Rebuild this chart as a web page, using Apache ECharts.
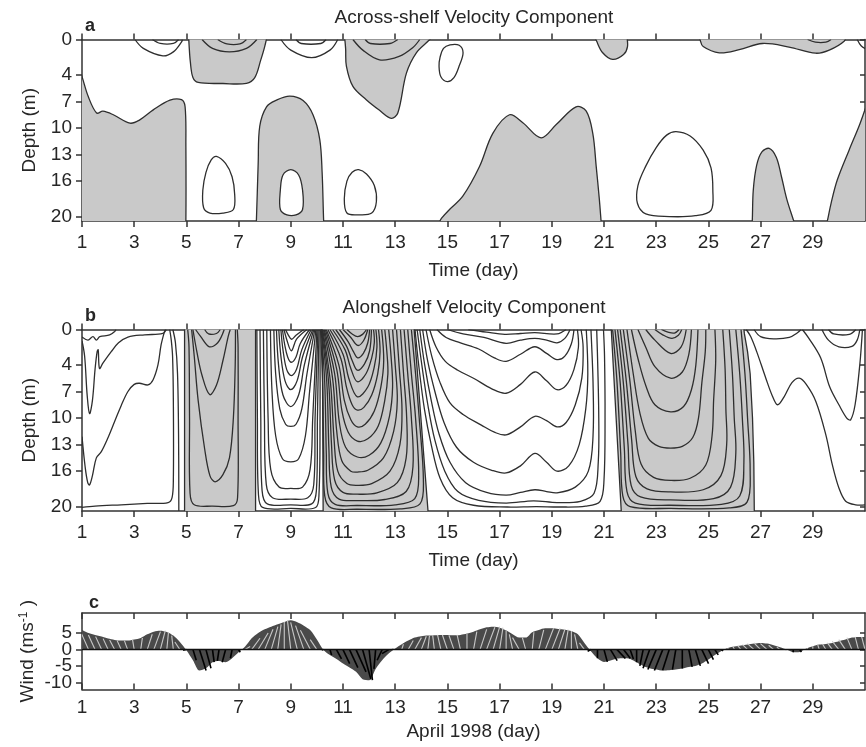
<!DOCTYPE html>
<html>
<head>
<meta charset="utf-8">
<script src="https://cdn.jsdelivr.net/npm/echarts@6/dist/echarts.min.js"></script>
<style>
  html, body { margin: 0; padding: 0; background: #fff; }
  #chart { width: 866px; height: 747px; }
</style>
</head>
<body>
<div id="chart"></div>
<script>
// ---- axis ticks -------------------------------------------------------
const dayTicks = [1, 3, 5, 7, 9, 11, 13, 15, 17, 19, 21, 23, 25, 27, 29];
const depthTicks = [0, 4, 7, 10, 13, 16, 20];
const windTicks = [-10, -5, 0, 5];

// ---- (a) across-shelf velocity: negative regions, [day, depth (m)] ----
const acrossShaded = [
  [[0.85,3.0],[1.0,4.2],[1.24,6.45],[1.56,8.3],[1.8,8.1],[2.2,8.5],[2.84,9.45],[3.2,9.1],[3.73,7.95],[4.37,6.85],[4.81,6.8],[4.95,7.6],[4.98,12],[4.98,20.6],[4.95,21],[0.9,21],[0.85,20.6]],
  [[5.05,-1],[5.08,-0.6],[5.1,0.5],[5.15,2.5],[5.25,4.3],[5.45,4.85],[6.4,4.97],[7.3,4.95],[7.62,4.3],[7.85,2.3],[8.0,0.8],[8.1,-0.6],[8.08,-1]],
  [[11.03,-1],[11.05,-0.6],[11.1,1],[11.13,3.0],[11.38,5.3],[11.89,6.8],[12.4,8.0],[12.85,8.9],[13.1,8.3],[13.43,3.8],[13.81,1.5],[14.32,0],[14.45,-0.6],[14.45,-1]],
  [[7.66,21],[7.68,20.6],[7.75,14],[7.81,9.8],[8.07,7.6],[8.45,6.85],[8.96,6.4],[9.47,6.9],[9.85,8.5],[10.11,11.3],[10.2,15],[10.26,20.6],[10.28,21]],
  [[20.62,-1],[20.65,-0.5],[20.72,0.2],[20.95,1.5],[21.33,2.25],[21.75,1.7],[21.9,0.8],[21.87,-0.5],[21.85,-1]],
  [[14.65,21],[14.7,20.6],[14.77,20.2],[15.08,19.2],[15.59,17.7],[16.23,14.35],[16.74,10.6],[17.38,8.5],[17.89,9.4],[18.59,11.1],[19.17,9.6],[19.93,7.6],[20.32,8.1],[20.57,10.6],[20.7,14.3],[20.82,18],[20.89,20.6],[20.9,21]],
  [[26.66,21],[26.68,20.6],[26.72,17],[26.85,14.2],[27.05,12.7],[27.33,12.3],[27.6,13.3],[27.8,15.5],[28.0,18],[28.28,20.6],[28.32,21]],
  [[29.5,21],[29.55,20.6],[29.7,18.5],[29.94,15.85],[30.39,12.5],[30.77,9.8],[31.2,6.5],[31.4,6],[31.4,21]],
  [[24.6,-1],[24.65,-0.5],[24.68,0],[24.8,0.8],[25.42,1.5],[26.18,1.15],[27.07,0.45],[28.09,0.85],[29.11,1.55],[29.63,1.2],[30.2,0.2],[30.27,-0.5],[30.28,-1]]
];

// closed positive cells
const acrossLoops = [
  [[14.72,2.0],[14.85,1.0],[15.1,0.6],[15.45,0.65],[15.6,1.5],[15.45,3.0],[15.25,4.3],[15.0,4.75],[14.75,4.2],[14.68,3.0]],
  [[6.15,13.2],[6.5,14.0],[6.75,15.5],[6.85,17.5],[6.8,19.2],[6.4,19.6],[5.9,19.6],[5.66,19.0],[5.63,17.0],[5.75,15.0],[5.95,13.6]],
  [[9.0,14.7],[9.3,15.3],[9.45,17],[9.45,19.2],[9.2,19.8],[8.85,19.8],[8.6,19.2],[8.6,17],[8.7,15.3]],
  [[11.6,14.7],[11.9,15.2],[12.2,16.5],[12.28,18.3],[12.1,19.6],[11.6,19.8],[11.15,19.6],[11.05,18],[11.15,16],[11.35,15]],
  [[23.76,10.4],[24.3,10.9],[24.8,12.5],[25.1,14.5],[25.17,17],[25.1,19.3],[24.5,19.9],[23.5,20.0],[22.6,19.7],[22.28,18.5],[22.3,16.5],[22.6,14.3],[23.0,12.2],[23.4,10.8]]
];

// open contours touching the surface
const acrossLines = [
  [[3.03,0],[3.35,1.0],[4.1,1.85],[4.5,1.4],[4.81,0.3],[4.85,0]],
  [[3.7,0],[4.0,0.45],[4.5,0.45],[4.7,0]],
  [[5.6,0],[6.0,1.0],[6.65,1.4],[7.3,1.0],[7.7,0]],
  [[6.2,0],[6.55,0.5],[7.05,0.5],[7.3,0]],
  [[8.62,0],[9.0,1.2],[9.8,2.05],[10.5,1.2],[10.8,0]],
  [[9.2,0],[9.4,0.45],[10.15,0.45],[10.35,0]],
  [[11.38,0],[11.76,1.2],[12.4,2.3],[13.15,1.9],[13.68,0.9],[13.94,0]],
  [[11.85,0],[12.05,0.45],[12.8,0.45],[13.1,0]],
  [[28.8,0],[29.1,0.3],[29.5,0.3],[29.7,0]],
  [[30.7,0],[30.85,0.7],[31.05,1.1]]
];

// ---- (b) alongshelf velocity: negative regions, [day, depth (m)] ------
const alongShaded = [
  [[4.93,-1],[4.93,21],[7.65,21],[7.65,-1]],
  [[10.2,-1],[10.22,8],[10.24,21],[14.27,21],[13.7,-1]],
  [[21.26,-1],[21.67,21],[26.76,21],[26.74,15],[26.69,10],[26.6,5],[26.5,2.5],[26.38,0.5],[26.32,-1]]
];

const alongLines = [
  // days 1-5
  [[1.0,0.85],[1.23,1.19],[1.42,0.81],[1.55,1.19],[1.68,0.81],[2.06,0.62],[2.25,0.24],[2.3,0]],
  [[1.0,1.3],[1.1,3],[1.2,7.5],[1.29,9.5],[1.4,8],[1.5,4.5],[1.58,2.5],[1.62,2.3],[1.67,4.4],[1.8,3.8],[2.12,2.5],[2.4,1.5],[2.76,0.85],[3.4,0.6],[4.1,0.45],[4.23,0]],
  [[1.0,12.1],[1.12,15.5],[1.22,17.3],[1.29,17.55],[1.4,16.5],[1.55,14.5],[1.74,13.8],[2.0,12.2],[2.25,10.4],[2.5,8.6],[2.76,7.0],[3.0,6.2],[3.2,6.07],[3.53,6.26],[3.72,5.7],[3.91,4.0],[4.03,1.75],[4.16,0.24],[4.2,0]],
  [[1.0,20.1],[1.5,19.95],[2.5,19.8],[3.5,19.65],[4.3,19.55],[4.45,19.0],[4.5,17],[4.5,8],[4.47,3],[4.42,1.2],[4.36,0]],
  [[4.48,0],[4.58,1.5],[4.66,5],[4.7,12],[4.71,20.6]],
  // days 5-7.6
  [[5.05,0],[5.1,2],[5.12,10],[5.14,18.5],[5.3,19.8],[6.0,19.95],[6.8,19.9],[6.96,19],[6.98,10],[6.98,2],[6.95,0]],
  [[5.2,0],[5.3,3],[5.45,8],[5.7,13.5],[5.9,16.5],[6.1,17.2],[6.4,16.4],[6.65,14.5],[6.8,10],[6.87,4],[6.88,0]],
  [[5.25,0],[5.4,2.5],[5.6,5.2],[5.89,7.35],[6.15,6.3],[6.4,3.5],[6.6,0.8],[6.68,0]],
  [[5.35,0],[5.55,0.8],[5.88,1.95],[6.2,1.5],[6.45,0]],
  [[5.7,0],[5.85,0.5],[6.15,0.45],[6.3,0]],
  // days 7.6-10.2
  [[7.7,0],[7.72,10],[7.76,18.6],[7.92,20.1],[9.0,20.2],[9.95,20.1],[10.08,18.6],[10.12,10],[10.12,0]],
  [[7.82,0],[7.85,10],[7.9,18.2],[8.1,19.7],[9.0,19.8],[9.8,19.7],[9.98,18.2],[10.02,10],[10.08,0]],
  [[7.95,0],[7.99,10],[8.06,17.5],[8.3,19.0],[9.0,19.15],[9.65,19.0],[9.88,17.5],[9.93,10],[10.04,0]],
  [[8.08,0],[8.13,10],[8.23,15.8],[8.55,17.8],[9.0,17.95],[9.45,17.8],[9.74,15.8],[9.84,10],[10.0,0]],
  [[8.22,0],[8.28,7],[8.42,12],[8.68,14.6],[9.0,14.95],[9.3,14.6],[9.56,12],[9.72,7],[9.96,0]],
  [[8.35,0],[8.42,5],[8.58,9],[8.8,10.7],[9.0,10.95],[9.2,10.7],[9.42,9],[9.62,5],[9.92,0]],
  [[8.45,0],[8.53,4],[8.7,7.4],[9.0,8.7],[9.3,7.4],[9.52,4],[9.88,0]],
  [[8.54,0],[8.62,3],[8.78,5.8],[9.0,6.8],[9.24,5.8],[9.46,3],[9.84,0]],
  [[8.62,0],[8.7,2.3],[8.84,4.5],[9.02,5.2],[9.22,4.5],[9.42,2.3],[9.78,0]],
  [[8.68,0],[8.76,1.6],[8.88,3.1],[9.02,3.7],[9.2,3.1],[9.36,1.6],[9.72,0]],
  [[8.74,0],[8.84,1.1],[9.02,2.4],[9.22,1.1],[9.62,0]],
  [[8.8,0],[8.9,0.6],[9.03,1.1],[9.2,0.65],[9.5,0]],
  // days 10.2-14.3
  [[10.14,0],[10.22,6],[10.26,14],[10.3,18.8],[10.55,20.15],[11.55,20.3],[13.2,20.25],[13.95,19.7],[14.08,17],[13.92,10],[13.78,5],[13.62,0]],
  [[10.16,0],[10.3,6],[10.36,14],[10.42,18.5],[10.7,19.75],[11.55,19.88],[13.0,19.8],[13.75,19.1],[13.9,16.5],[13.78,10],[13.62,5],[13.48,0]],
  [[10.18,0],[10.38,6],[10.46,13.5],[10.55,17.8],[10.85,19.15],[11.55,19.32],[12.6,19.2],[13.42,18.3],[13.68,15.5],[13.62,10],[13.48,5],[13.34,0]],
  [[10.2,0],[10.45,6],[10.56,13],[10.68,17],[11.0,18.4],[11.55,18.6],[12.3,18.45],[13.08,17.3],[13.42,14.5],[13.44,10],[13.32,5],[13.2,0]],
  [[10.22,0],[10.52,6],[10.66,12.5],[10.8,16],[11.15,17.4],[11.55,17.6],[12.1,17.4],[12.8,16],[13.18,13],[13.26,9],[13.16,4.5],[13.05,0]],
  [[10.25,0],[10.6,5.5],[10.76,11.5],[10.95,14.8],[11.3,16],[11.55,16.1],[11.95,15.9],[12.55,14.5],[12.94,11.5],[13.08,8],[13.0,4],[12.9,0]],
  [[10.28,0],[10.68,5],[10.86,10.5],[11.1,13.3],[11.55,14.4],[12.0,14.2],[12.45,12.8],[12.78,9.8],[12.9,6.5],[12.84,3],[12.75,0]],
  [[10.32,0],[10.76,4.5],[10.96,9.2],[11.2,11.6],[11.55,12.6],[11.95,12.35],[12.35,10.9],[12.6,8],[12.72,5],[12.68,2.5],[12.6,0]],
  [[10.36,0],[10.84,4],[11.05,8],[11.3,10.2],[11.55,11.0],[11.85,10.7],[12.2,9.2],[12.45,6.5],[12.56,3.5],[12.48,0]],
  [[10.42,0],[10.92,3.3],[11.14,6.6],[11.35,8.5],[11.55,9.1],[11.8,8.8],[12.1,7.4],[12.33,5],[12.42,2.5],[12.36,0]],
  [[10.5,0],[11.0,2.8],[11.22,5.5],[11.55,7.6],[11.95,6.5],[12.2,4.2],[12.3,2],[12.26,0]],
  [[10.6,0],[11.08,2.3],[11.3,4.4],[11.55,5.9],[11.88,5.0],[12.1,3.2],[12.2,1.5],[12.17,0]],
  [[10.72,0],[11.14,1.9],[11.35,3.5],[11.55,4.6],[11.82,3.9],[12.02,2.4],[12.09,0]],
  [[10.86,0],[11.2,1.4],[11.4,2.5],[11.56,3.2],[11.78,2.7],[11.95,1.5],[12.02,0]],
  [[11.0,0],[11.3,0.9],[11.56,1.8],[11.78,1.3],[11.95,0]],
  [[11.15,0],[11.35,0.5],[11.56,0.8],[11.75,0.55],[11.9,0]],
  // days 14-21
  [[13.76,0],[13.9,4],[14.12,9],[14.38,13],[14.72,16.8],[15.2,19.0],[16.0,19.85],[17.3,20.05],[18.4,20.0],[19.3,20.05],[20.3,19.95],[20.85,19.4],[21.0,17],[21.04,10],[21.02,3],[20.98,0]],
  [[13.84,0],[14.02,4],[14.25,8.5],[14.52,12.5],[14.9,16],[15.4,18.3],[16.2,19.3],[17.25,19.6],[18.3,19.35],[19.2,19.55],[20.1,19.4],[20.62,18.5],[20.78,15],[20.8,10],[20.76,4],[20.72,0]],
  [[13.94,0],[14.13,4],[14.38,8],[14.68,11.8],[15.1,15],[15.7,17.3],[16.5,18.4],[17.25,18.7],[17.8,18.4],[18.35,18.1],[18.8,18.3],[19.2,18.45],[19.9,17.8],[20.4,16],[20.58,12],[20.58,6],[20.5,0]],
  [[14.05,0],[14.24,3.5],[14.52,7],[14.87,10.5],[15.35,13.3],[16.0,15.0],[16.7,15.9],[17.25,16.2],[17.8,15.4],[18.35,14.0],[18.8,15.0],[19.2,16.0],[19.65,15.4],[20.05,13],[20.3,9],[20.38,5],[20.32,0]],
  [[14.18,0],[14.4,3],[14.72,6],[15.1,8.3],[15.6,9.6],[16.3,10.8],[16.8,11.6],[17.25,11.9],[17.8,11.0],[18.35,9.8],[18.8,10.3],[19.2,11.0],[19.55,10.5],[19.9,8.5],[20.15,5.5],[20.2,2],[20.12,0]],
  [[14.32,0],[14.57,2],[14.92,3.6],[15.4,4.6],[16.0,5.5],[16.7,6.7],[17.25,7.2],[17.8,6.2],[18.35,4.8],[18.8,5.8],[19.2,6.8],[19.55,6.3],[19.85,4.5],[20.02,2],[19.98,0]],
  [[14.6,0],[14.95,0.9],[15.5,1.5],[16.2,2.2],[16.8,3.2],[17.25,3.6],[17.8,2.8],[18.35,1.95],[18.8,2.7],[19.2,3.4],[19.5,3.0],[19.75,1.6],[19.85,0]],
  [[15.0,0],[15.6,0.5],[16.4,0.9],[17.25,1.56],[17.8,1.2],[18.35,1.0],[18.8,1.2],[19.2,1.5],[19.5,1.0],[19.7,0]],
  [[15.8,0],[16.5,0.3],[17.2,0.55],[17.8,0.45],[18.35,0.35],[19.2,0.5],[19.55,0]],
  // days 21.3-26.8
  [[21.33,0],[21.5,6],[21.64,14],[21.72,18.8],[22.0,20.0],[23.55,20.2],[25.8,20.15],[26.48,19.5],[26.6,16],[26.5,10],[26.4,5],[26.25,0]],
  [[21.42,0],[21.62,6],[21.78,13.5],[21.88,18.3],[22.2,19.6],[23.55,19.85],[25.5,19.75],[26.2,18.8],[26.36,15],[26.3,10],[26.2,5],[26.05,0]],
  [[21.52,0],[21.74,6],[21.92,13],[22.04,17.6],[22.4,18.9],[23.55,19.25],[25.2,19.1],[25.85,17.8],[26.05,14],[25.99,10],[25.92,5],[25.8,0]],
  [[21.62,0],[21.86,6],[22.06,12.5],[22.22,16.6],[22.65,18.0],[23.55,18.35],[24.8,18.1],[25.48,16.5],[25.7,13],[25.67,9],[25.64,4.5],[25.55,0]],
  [[21.74,0],[21.98,5.5],[22.2,11.5],[22.42,15.2],[22.9,16.7],[23.55,17.05],[24.3,16.8],[24.9,15.3],[25.14,12],[25.2,8],[25.28,3.5],[25.25,0]],
  [[21.88,0],[22.12,5],[22.38,9.5],[22.7,12.3],[23.1,13.2],[23.55,13.4],[24.0,13.2],[24.4,12.2],[24.62,10],[24.75,6],[24.88,2.5],[24.9,0]],
  [[22.05,0],[22.32,3.5],[22.62,6.5],[22.95,8.5],[23.55,9.3],[24.05,8.7],[24.35,6.8],[24.52,4],[24.6,0]],
  [[22.3,0],[22.6,2],[22.95,4.2],[23.55,5.5],[24.0,4.8],[24.25,2.8],[24.35,0]],
  [[22.6,0],[22.95,1.2],[23.55,2.7],[23.95,2.0],[24.15,0]],
  [[22.95,0],[23.25,0.6],[23.6,1.0],[23.85,0.65],[23.98,0]],
  [[23.2,0],[23.45,0.3],[23.7,0.4],[23.88,0]],
  // days 26.4-31
  [[26.45,0],[26.62,0.8],[26.85,2.5],[27.2,5.5],[27.45,7.5],[27.65,8.5],[27.9,7.6],[28.2,6.0],[28.48,5.5],[28.75,6.2],[29.12,8.15],[29.5,11.9],[29.75,15.3],[30.0,17.9],[30.26,19.4],[30.64,19.8],[31.05,19.8]],
  [[28.6,0],[28.85,1],[29.3,3.2],[29.65,6.5],[30.0,8.5],[30.3,10.0],[30.45,10.2],[30.62,8.5],[30.8,4],[30.88,1],[30.9,0]],
  [[29.35,0],[29.6,1.2],[30.0,1.95],[30.5,1.9],[30.7,1.2],[30.8,0]],
  [[29.6,0],[29.8,0.5],[30.4,0.55],[30.65,0]],
  [[26.75,0],[27.0,0.8],[27.5,1.05],[28.1,0.9],[28.4,0.4],[28.55,0]]
];

// ---- (c) wind, 6-hourly: day, east (u) and north (v) components, m/s ----
const windDay = [1,1.25,1.5,1.75,2,2.25,2.5,2.75,3,3.25,3.5,3.75,4,4.25,4.5,4.75,5,5.25,5.5,5.75,6,6.25,6.5,6.75,7,7.25,7.5,7.75,8,8.25,8.5,8.75,9,9.25,9.5,9.75,10,10.25,10.5,10.75,11,11.25,11.5,11.75,12,12.25,12.5,12.75,13,13.25,13.5,13.75,14,14.25,14.5,14.75,15,15.25,15.5,15.75,16,16.25,16.5,16.75,17,17.25,17.5,17.75,18,18.25,18.5,18.75,19,19.25,19.5,19.75,20,20.25,20.5,20.75,21,21.25,21.5,21.75,22,22.25,22.5,22.75,23,23.25,23.5,23.75,24,24.25,24.5,24.75,25,25.25,25.5,25.75,26,26.25,26.5,26.75,27,27.25,27.5,27.75,28,28.25,28.5,28.75,29,29.25,29.5,29.75,30,30.25,30.5,30.75,31];
const windV = [5.9,5.0,4.4,3.9,3.3,2.9,2.7,2.7,3.0,
  3.5,4.6,5.4,5.7,5.3,4.2,2.3,-0.2,
  -3.2,-6.3,-5.6,-3.8,-3.4,-3.8,-2.6,-0.8,
  0.9,3.4,5.0,6.1,6.9,7.6,8.3,8.8,
  8.2,7.2,5.8,3.0,-0.1,-1.6,-2.8,-4.2,
  -5.4,-6.7,-8.9,-9.2,-5.8,-3.2,-1.2,0.3,
  1.6,2.7,3.6,4.0,4.2,4.3,4.4,4.4,
  4.3,4.4,4.8,5.4,6.1,6.7,6.9,6.6,
  5.8,4.6,3.6,3.6,5.2,5.9,6.4,6.4,
  6.2,6.0,5.6,4.6,2.0,-0.5,-2.6,-3.7,
  -3.3,-2.7,-2.6,-2.8,-3.8,-4.9,-5.6,-6.0,
  -6.3,-6.2,-6.0,-5.7,-5.2,-4.9,-4.2,-3.0,
  -1.6,-0.4,0.5,0.9,1.2,1.5,1.8,2.0,
  1.8,1.3,0.7,0.0,-0.8,-0.7,0.3,1.0,
  1.5,1.7,2.0,2.5,3.0,3.6,3.8,3.8];
const windU = [-2.0,-2.2,-2.0,-1.8,-1.5,-1.5,-1.2,-1.0,-0.5,
  0.5,1.5,2.0,1.5,0.5,-0.5,-1.5,-1.0,
  1.0,2.0,1.5,0.5,-0.5,-1.0,-0.5,0.5,
  1.5,2.5,3.0,2.5,2.0,1.0,0.0,-1.0,
  -2.0,-2.5,-3.0,-2.0,-0.5,0.5,1.5,2.0,
  2.5,3.0,2.5,1.0,-0.5,-1.5,-2.0,-1.0,
  0.5,1.5,2.0,1.5,0.5,-0.5,-1.0,-1.5,
  -1.5,-1.0,0.0,1.0,2.0,2.5,2.0,1.0,
  0.0,-1.0,-2.0,-1.0,0.5,1.5,2.5,2.5,
  2.0,1.0,0.0,-1.0,-1.5,-1.0,0.0,1.0,
  2.0,2.5,2.0,1.0,0.0,-1.0,-2.0,-2.5,
  -2.5,-2.0,-1.0,0.0,1.0,1.5,2.0,1.5,
  1.0,0.5,0.0,-0.5,-1.0,-1.5,-2.0,-2.0,
  -2.0,-1.5,-1.0,-0.5,0.0,0.5,0.5,0.0,
  -0.5,-1.0,-1.5,-2.0,-2.0,-1.5,-1.0,-1.0];

// ---- styling --------------------------------------------------------------
const FONT = '"Liberation Sans", Arial, Helvetica, sans-serif';
const INK = '#262626';
const AXIS = '#333';
const SHADE = '#c9c9c9';
const LINE = '#2e2e2e';

const chart = echarts.init(document.getElementById('chart'));

const labelStyle = { fontSize: 19, color: INK, fontFamily: FONT, hideOverlap: false };
const nameStyle = { fontSize: 19, color: INK, fontFamily: FONT };

function dayAxes(gi, name, nameGap, labelMargin, tickInside) {
  const common = {
    gridIndex: gi, type: 'value', min: 1, max: 31,
    splitLine: { show: false },
    axisLine: { show: true, onZero: false, lineStyle: { color: AXIS, width: 1.5 } },
    axisTick: { show: true, inside: tickInside, length: 6, customValues: dayTicks, lineStyle: { color: AXIS, width: 1.5 } }
  };
  return [
    Object.assign({}, common, {
      position: 'bottom', name: name, nameLocation: 'middle', nameGap: nameGap,
      nameMoveOverlap: false, nameTextStyle: nameStyle,
      axisLabel: Object.assign({ customValues: dayTicks, margin: labelMargin }, labelStyle)
    }),
    Object.assign({}, common, { position: 'top', axisLabel: { show: false } })
  ];
}

function valueAxes(gi, min, max, inverse, ticks, labelValues, name, nameGap) {
  const common = {
    gridIndex: gi, type: 'value', min: min, max: max, inverse: inverse,
    splitLine: { show: false },
    axisLine: { show: true, onZero: false, lineStyle: { color: AXIS, width: 1.5 } }
  };
  return [
    Object.assign({}, common, {
      position: 'left', name: name, nameLocation: 'middle', nameRotate: 90, nameGap: nameGap,
      nameMoveOverlap: false,
      nameTextStyle: Object.assign({}, nameStyle, {
        rich: {
          n: { fontSize: 19, color: INK, fontFamily: FONT },
          s: { fontSize: 12, color: INK, fontFamily: FONT, verticalAlign: 'top', padding: [0, 0, 8, 0] }
        }
      }),
      axisTick: { show: true, inside: false, length: 6, customValues: ticks, lineStyle: { color: AXIS, width: 1.5 } },
      axisLabel: Object.assign({ customValues: labelValues, margin: 10 }, labelStyle)
    }),
    Object.assign({}, common, {
      position: 'right',
      axisTick: { show: true, inside: true, length: 5, customValues: ticks, lineStyle: { color: AXIS, width: 1.5 } },
      axisLabel: { show: false }
    })
  ];
}

// second label row for the wind axis: its labels sit only 16 px apart,
// so they are split over two coincident axes and none of them gets culled
function windLabelAxis(gi, labelValues) {
  return {
    gridIndex: gi, type: 'value', min: -12, max: 11, position: 'left', offset: 0,
    splitLine: { show: false }, axisLine: { show: false }, axisTick: { show: false },
    axisLabel: Object.assign({ customValues: labelValues, margin: 10 }, labelStyle)
  };
}

// shapes drawn as filled polygons, white cells or open contour lines
function shapeSeries(shapes, gi, kind, smooth, z) {
  return {
    type: 'custom', xAxisIndex: gi * 2, yAxisIndex: gi * 2, clip: true, z: z,
    silent: true, animation: false,
    data: shapes.map(function (s, i) { return [s[0][0], s[0][1], i]; }),
    encode: { x: 0, y: 1 },
    renderItem: function (params, api) {
      const pts = shapes[api.value(2)].map(function (p) { return api.coord(p); });
      if (kind === 'line') {
        return { type: 'polyline', shape: { points: pts, smooth: smooth },
          style: { fill: 'none', stroke: LINE, lineWidth: 1.3 } };
      }
      return { type: 'polygon', shape: { points: pts, smooth: smooth },
        style: { fill: kind === 'fill' ? SHADE : '#fff', stroke: LINE, lineWidth: 1.3 } };
    }
  };
}

const windData = windDay.map(function (d, i) { return [d, windU[i], windV[i]]; });

const option = {
  animation: false,
  backgroundColor: '#fff',
  title: [
    { text: 'Across-shelf Velocity Component', left: 474, top: 8, textAlign: 'center', padding: 0,
      textStyle: { fontSize: 19, fontWeight: 'normal', color: INK, fontFamily: FONT } },
    { text: 'Alongshelf Velocity Component', left: 474, top: 298, textAlign: 'center', padding: 0,
      textStyle: { fontSize: 19, fontWeight: 'normal', color: INK, fontFamily: FONT } },
    { text: 'a', left: 85, top: 17, padding: 0, textStyle: { fontSize: 18, fontWeight: 'bold', color: INK, fontFamily: FONT } },
    { text: 'b', left: 85, top: 307, padding: 0, textStyle: { fontSize: 18, fontWeight: 'bold', color: INK, fontFamily: FONT } },
    { text: 'c', left: 89, top: 594, padding: 0, textStyle: { fontSize: 18, fontWeight: 'bold', color: INK, fontFamily: FONT } }
  ],
  grid: [
    { left: 82, top: 39.5, width: 783, height: 181.5, outerBoundsMode: 'none', containLabel: false },
    { left: 82, top: 329.5, width: 783, height: 181.5, outerBoundsMode: 'none', containLabel: false },
    { left: 82, top: 613, width: 783, height: 76.5, outerBoundsMode: 'none', containLabel: false }
  ],
  xAxis: [].concat(
    dayAxes(0, 'Time (day)', 40, 12, false),
    dayAxes(1, 'Time (day)', 40, 12, false),
    dayAxes(2, 'April 1998 (day)', 33, 9, true)
  ),
  yAxis: [].concat(
    valueAxes(0, 0, 20.5, true, depthTicks, depthTicks, 'Depth (m)', 43),
    valueAxes(1, 0, 20.5, true, depthTicks, depthTicks, 'Depth (m)', 43),
    valueAxes(2, -12, 11, false, windTicks, [windTicks[0], windTicks[2]], '{n|Wind (ms}{s|-1}{n| )}', 44),
    [windLabelAxis(2, [windTicks[1], windTicks[3]])]
  ),
  series: [
    shapeSeries(acrossShaded, 0, 'fill', 0.35, 1),
    shapeSeries(acrossLoops, 0, 'hole', 0.35, 2),
    shapeSeries(acrossLines, 0, 'line', 0.35, 3),
    shapeSeries(alongShaded, 1, 'fill', 0, 1),
    shapeSeries(alongLines, 1, 'line', 0.35, 3),
    {
      type: 'line', xAxisIndex: 4, yAxisIndex: 4, data: windDay.map(function (d, i) { return [d, windV[i]]; }),
      showSymbol: false, smooth: 0.3, lineStyle: { width: 0 }, areaStyle: { color: '#4a4a4a', opacity: 1, origin: 0 },
      silent: true, z: 1
    },
    {
      type: 'custom', xAxisIndex: 4, yAxisIndex: 4, clip: true, silent: true, z: 2,
      data: windData, encode: { x: 0, y: 2 },
      renderItem: function (params, api) {
        const t = api.value(0), u = api.value(1), v = api.value(2);
        const base = api.coord([t, 0]);
        const tip = api.coord([t, v]);
        const unit = base[1] - api.coord([t, 1])[1];
        return { type: 'line', shape: { x1: base[0], y1: base[1], x2: base[0] + u * unit, y2: tip[1] },
          style: { stroke: v < 0 ? '#000' : '#c8c8c8', lineWidth: v < 0 ? 1.6 : 1.1 } };
      }
    },
    {
      type: 'line', xAxisIndex: 4, yAxisIndex: 4, data: [[1, 0], [31, 0]], showSymbol: false,
      lineStyle: { color: '#111', width: 1.5 }, silent: true, z: 3
    }
  ]
};

chart.setOption(option);
</script>
</body>
</html>
